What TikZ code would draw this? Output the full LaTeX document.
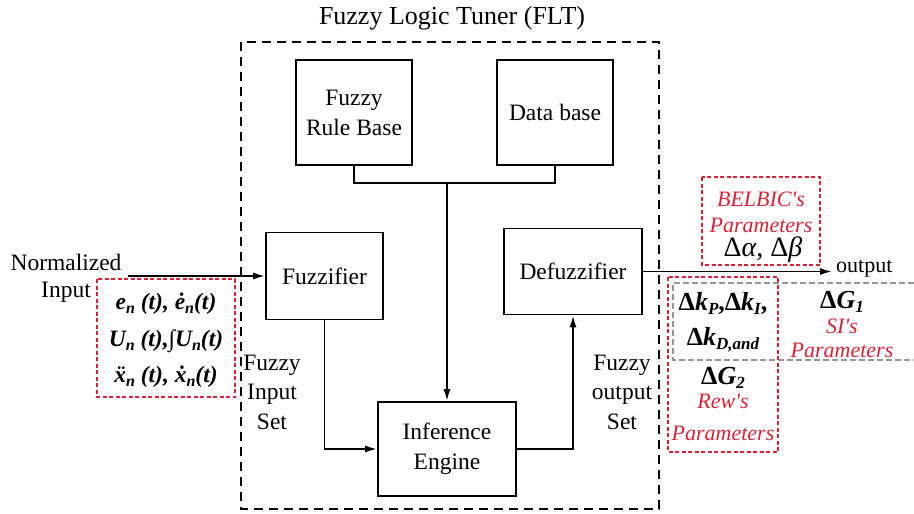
\documentclass[tikz,border=0pt]{standalone}
\usepackage{fontspec}
\setmainfont{Liberation Serif}
\usetikzlibrary{arrows.meta}
\definecolor{myred}{RGB}{215,35,55}
\definecolor{mygray}{RGB}{150,150,150}
\newcommand\dn[1]{\raisebox{-4pt}{\fontsize{16}{16}\selectfont #1}}
\newcommand\dns[1]{\raisebox{-4pt}{\fontsize{17}{17}\selectfont #1}}
\tikzset{
  blk/.style={draw, line width=1.8pt, inner sep=0pt, align=center,
    font=\fontsize{23.5}{30}\selectfont},
  lbl/.style={inner sep=0pt, align=center, font=\fontsize{23.5}{29.5}\selectfont},
  arr/.style={line width=1.8pt, -{Latex[length=12pt,width=7pt]}},
  conn/.style={line width=1.8pt},
  outerbox/.style={draw, line width=1.8pt, dash pattern=on 9pt off 6pt},
  redbox/.style={draw=myred, line width=1.2pt, dash pattern=on 4pt off 2.5pt},
  graybox/.style={draw=mygray, line width=1.2pt, dash pattern=on 6pt off 3pt},
  redtxt/.style={inner sep=0pt, text=myred, font=\fontsize{22}{22}\selectfont\itshape},
  mathtxt/.style={inner sep=0pt, font=\fontsize{23.5}{23.5}\selectfont\bfseries\itshape},
  rmath/.style={inner sep=0pt, font=\fontsize{26}{26}\selectfont\bfseries},
}
\begin{document}
\begin{tikzpicture}[x=1pt,y=-1pt]
\useasboundingbox (0,0) rectangle (914,514);
% outer FLT box
\draw[outerbox] (241,42) rectangle (659,509);
\node[lbl, font=\fontsize{26}{26}\selectfont] (title) at (452,18) {Fuzzy Logic Tuner (FLT)};
% blocks
\node[blk, minimum width=116pt, minimum height=105pt] (frb) at (354,112.5) {Fuzzy\\Rule Base};
\node[blk, minimum width=116pt, minimum height=105pt] (db) at (555,112.5) {Data base};
\node[blk, minimum width=117pt, minimum height=87pt] (fuzz) at (324.5,276) {Fuzzifier};
\node[blk, minimum width=138pt, minimum height=86pt] (defuzz) at (573,271.5) {Defuzzifier};
\node[blk, minimum width=138pt, minimum height=94pt] (ie) at (447,449) {Inference\\Engine};
% connectors
\coordinate (jn) at (447,183);
\draw[conn] (frb.south) |- (jn) -| (db.south);
\draw[arr] (jn) -- (ie.north);
\coordinate (inL) at (128,276);
\draw[arr] (inL) -- (fuzz.west);
\draw[arr] (fuzz.south) |- (ie.west);
\draw[arr] (ie.east) -| (defuzz.south);
\coordinate (outR) at (832,271.5);
\draw[arr] (defuzz.east) -- (outR);
% left labels
\node[lbl] (norm) at (66,262) {Normalized};
\node[lbl] (inp) at (66,292) {Input};
\draw[redbox] (97,279) rectangle (235,397);
\node[mathtxt] (l1) at (166,304) {e\dn{n} (t), \.e\dn{n}(t)};
\node[mathtxt] (l2) at (166,341) {U\dn{n} (t),{\mdseries\upshape ∫}U\dn{n}(t)};
\node[mathtxt] (l3) at (166,377) {\"x\dn{n} (t), \.x\dn{n}(t)};
% fuzzy set labels
\node[lbl] (fis) at (272,392) {Fuzzy\\Input\\Set};
\node[lbl] (fos) at (622,392) {Fuzzy\\output\\Set};
% output
\node[lbl, anchor=west, font=\fontsize{22}{22}\selectfont] (outtxt) at (836,269) {output};
% BELBIC box
\draw[redbox] (702,177) rectangle (820,265);
\node[redtxt] (bel1) at (761,199) {BELBIC\textquotesingle s};
\node[redtxt] (bel2) at (761,225) {Parameters};
\node[inner sep=0pt, font=\fontsize{28}{28}\selectfont] (bel3) at (763,250) {Δ\textit{α}, Δ\textit{β}};
% gray SI box (open to the right)
\draw[graybox] (914,283) -- (673,283) -- (673,360) -- (914,360);
\node[rmath] (g1) at (842,302) {Δ\textit{G\dns{1}}};
\node[redtxt] (si1) at (842,326) {SI\textquotesingle s};
\node[redtxt] (si2) at (842,350) {Parameters};
% Rew box
\draw[redbox] (668,277) rectangle (778,452);
\node[rmath] (r1) at (723,303) {Δ\textit{k\dns{P}},Δ\textit{k\dns{I}},};
\node[rmath] (r2) at (723,340) {Δ\textit{k\dns{D,and}}};
\node[rmath] (r3) at (723,378) {Δ\textit{G\dns{2}}};
\node[redtxt] (rw1) at (723,401) {Rew\textquotesingle s};
\node[redtxt] (rw2) at (723,433) {Parameters};
\end{tikzpicture}
\end{document}
